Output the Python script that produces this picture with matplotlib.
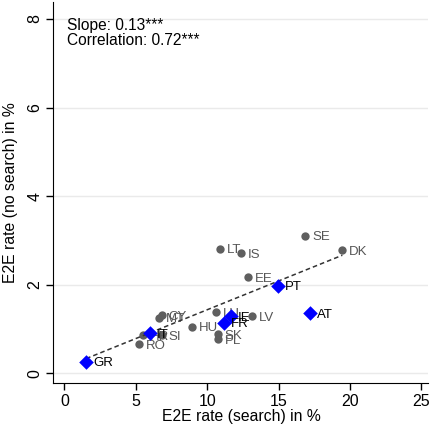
import matplotlib
matplotlib.use("Agg")
from matplotlib import pyplot as plt
import numpy as np

plt.rcParams['font.family'] = ['Liberation Sans', 'DejaVu Sans']

# countries without search-based measure difference (grey dots)
grey_names = ["SE", "DK", "LT", "IS", "EE", "LU", "LV", "CY", "MT", "HU",
              "SK", "PL", "SI", "RO", "HR"]
grey_x = [16.88, 19.47, 10.87, 12.37, 12.83, 10.64, 13.16, 6.83, 6.64, 8.96,
          10.73, 10.73, 6.83, 5.24, 5.47]
grey_y = [3.11, 2.78, 2.81, 2.71, 2.17, 1.38, 1.29, 1.31, 1.26, 1.05,
          0.88, 0.77, 0.86, 0.66, 0.86]

# highlighted countries (blue diamonds)
blue_names = ["GR", "IT", "FR", "IE", "PT", "AT"]
blue_x = [1.52, 6.01, 11.15, 11.64, 14.96, 17.2]
blue_y = [0.26, 0.91, 1.14, 1.29, 1.98, 1.36]

slope = 0.13
intercept = 0.135

fig = plt.figure(figsize=(4.31, 4.24), dpi=100)
ax = fig.add_axes([0.124, 0.096, 0.870, 0.900])

for yv in [0, 2, 4, 6, 8]:
    ax.axhline(yv, color="#eaeaea", lw=1.0, zorder=0)

ax.scatter(grey_x, grey_y, s=36, color="#5f5f5f", zorder=2, linewidths=0)
for n, x, y in zip(grey_names, grey_x, grey_y):
    ax.annotate(n, (x, y), xytext=(5, 0), textcoords="offset points",
                va="center_baseline", ha="left", fontsize=9.5, color="#555555", zorder=2)

all_x = grey_x + blue_x
xs = np.array([min(all_x), max(all_x)])
ax.plot(xs, intercept + slope * xs, ls=(0, (3, 2)), color="#333333", lw=1.1, zorder=3)

ax.scatter(blue_x, blue_y, s=55, marker="D", color="#0000ff", zorder=4, linewidths=0)
for n, x, y in zip(blue_names, blue_x, blue_y):
    ax.annotate(n, (x, y), xytext=(5, 0), textcoords="offset points",
                va="center_baseline", ha="left", fontsize=9.5, color="black",
                zorder=5)

ax.text(0.21, 8.03, "Slope: 0.13***\nCorrelation: 0.72***", fontsize=11.2,
        va="top", ha="left", linespacing=1.0)

ax.set_xlim(-0.77, 25.5)
ax.set_ylim(-0.225, 8.39)
ax.set_xticks([0, 5, 10, 15, 20, 25])
ax.set_yticks([0, 2, 4, 6, 8])
ax.tick_params(axis="both", labelsize=11.5, direction="out", length=5, width=1, pad=3)
plt.setp(ax.get_yticklabels(), rotation=90, va="center")
ax.spines["top"].set_visible(False)
ax.spines["right"].set_visible(False)
ax.set_xlabel("E2E rate (search) in %", fontsize=11.3)
ax.set_ylabel("E2E rate (no search) in %", fontsize=11.3)
ax.xaxis.set_label_coords(0.5, -0.068)
ax.yaxis.set_label_coords(-0.094, 0.5)

plt.savefig("out.png", dpi=100)
